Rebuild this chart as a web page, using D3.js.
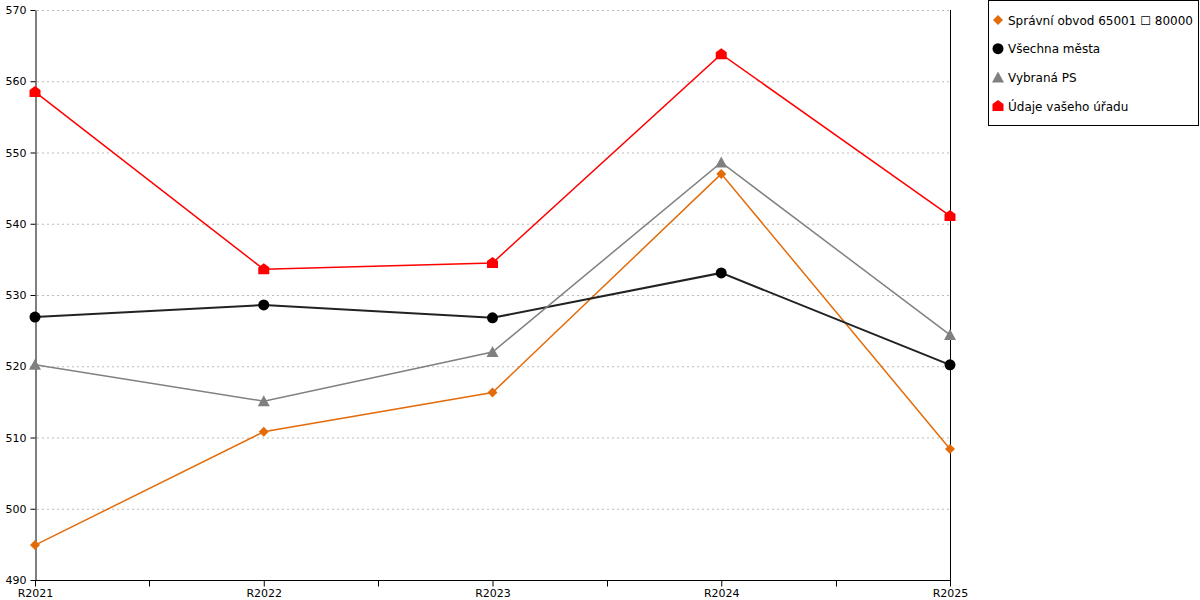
<!DOCTYPE html>
<html>
<head>
<meta charset="utf-8">
<script src="https://cdnjs.cloudflare.com/ajax/libs/d3/7.8.5/d3.min.js"></script>
<style>
  body { margin: 0; background: #fff; }
  svg { font-family: "DejaVu Sans", Verdana, sans-serif; }
</style>
</head>
<body>
<script>
// data
var years = ["R2021", "R2022", "R2023", "R2024", "R2025"];
var obvod = [494.9, 510.8, 516.3, 547.0, 508.4];
var mesta = [526.9, 528.6, 526.8, 533.1, 520.2];
var vybranaPS = [520.2, 515.1, 522.0, 548.6, 524.4];
var urad = [558.5, 533.6, 534.5, 563.8, 541.1];
var yTicks = [490, 500, 510, 520, 530, 540, 550, 560, 570];

var series = [
    { name: "Správní obvod 65001 \u2610 80000", values: obvod, color: "#e36c0a", width: 1.5, shape: "diamond" },
    { name: "Všechna města", values: mesta, color: "#222222", width: 2, lineColor: "#222", markColor: "#000", shape: "circle" },
    { name: "Vybraná PS", values: vybranaPS, color: "#808080", width: 1.5, shape: "triangle" },
    { name: "Údaje vašeho úřadu", values: urad, color: "#ff0000", width: 1.5, shape: "house" }
];

var svg = d3.select("body")
    .append("svg")
    .attr("width", 1200)
    .attr("height", 600);

var plotLeft = 35, plotRight = 950, plotTop = 10, plotBottom = 580;

var x = d3.scalePoint()
    .domain(years)
    .range([plotLeft, plotRight]);

var y = d3.scaleLinear()
    .domain([490, 570])
    .range([plotBottom, plotTop]);

// grid
svg.append("g")
    .selectAll("line")
    .data(yTicks.slice(1))
    .enter()
    .append("line")
    .attr("x1", plotLeft + 2)
    .attr("x2", plotRight)
    .attr("y1", function (d) { return y(d) + 0.5; })
    .attr("y2", function (d) { return y(d) + 0.5; })
    .attr("stroke", "#bbbbbb")
    .attr("stroke-dasharray", "2,3");

// y axis
var yAxis = svg.append("g")
    .attr("transform", "translate(" + (plotLeft + 0.5) + ",0)")
    .call(d3.axisLeft(y).tickValues(yTicks).tickSize(5).tickSizeOuter(0).tickPadding(4));
yAxis.selectAll("text").attr("font-size", 11).attr("font-family", "DejaVu Sans").attr("fill", "#000");

// right line
svg.append("line")
    .attr("x1", plotRight + 0.5).attr("x2", plotRight + 0.5)
    .attr("y1", plotTop).attr("y2", plotBottom + 6)
    .attr("stroke", "#000");

// x axis with minor ticks between categories
var xAxis = svg.append("g")
    .attr("transform", "translate(0," + (plotBottom + 0.5) + ")")
    .call(d3.axisBottom(x).tickSize(6).tickSizeOuter(0).tickPadding(3));
xAxis.selectAll("text").attr("font-size", 11).attr("font-family", "DejaVu Sans").attr("fill", "#000");
xAxis.select(".domain").attr("d", "M" + plotLeft + ",0H" + plotRight);

var mids = years.slice(1).map(function (d, i) {
    return (x(years[i]) + x(d)) / 2;
});
xAxis.selectAll(".minor")
    .data(mids)
    .enter()
    .append("line")
    .attr("class", "minor")
    .attr("x1", function (d) { return Math.round(d) + 0.5; })
    .attr("x2", function (d) { return Math.round(d) + 0.5; })
    .attr("y1", 0)
    .attr("y2", 6)
    .attr("stroke", "#000");

function markerPath(shape) {
    if (shape === "diamond") return "M0,-5L5,0L0,5L-5,0Z";
    if (shape === "circle") return d3.symbol().type(d3.symbolCircle).size(95)();
    if (shape === "triangle") return "M0,-6L6,5L-6,5Z";
    return "M0,-6L5.5,-2L5.5,5L-5.5,5L-5.5,-2Z";
}

var line = d3.line()
    .x(function (d, i) { return x(years[i]); })
    .y(function (d) { return y(d); });

series.forEach(function (s) {
    svg.append("path")
        .attr("d", line(s.values))
        .attr("fill", "none")
        .attr("stroke", s.lineColor || s.color)
        .attr("stroke-width", s.width);
});

series.forEach(function (s) {
    svg.append("g")
        .selectAll("path")
        .data(s.values)
        .enter()
        .append("path")
        .attr("transform", function (d, i) {
            return "translate(" + x(years[i]) + "," + y(d) + ")";
        })
        .attr("d", markerPath(s.shape))
        .attr("fill", s.markColor || s.color);
});

// legend
var legend = svg.append("g");
legend.append("rect")
    .attr("x", 988.5)
    .attr("y", 0.5)
    .attr("width", 210)
    .attr("height", 125)
    .attr("fill", "#fff")
    .attr("stroke", "#000");

var item = legend.selectAll(".item")
    .data(series)
    .enter()
    .append("g")
    .attr("class", "item")
    .attr("transform", function (d, i) {
        return "translate(998," + (20 + i * 28.7) + ")";
    });

item.append("path")
    .attr("d", function (d) { return markerPath(d.shape); })
    .attr("fill", function (d) { return d.markColor || d.color; });

item.append("text")
    .attr("x", 10)
    .attr("y", 4.5)
    .attr("font-size", 12)
    .attr("fill", "#000")
    .text(function (d) { return d.name; });
</script>
</body>
</html>
